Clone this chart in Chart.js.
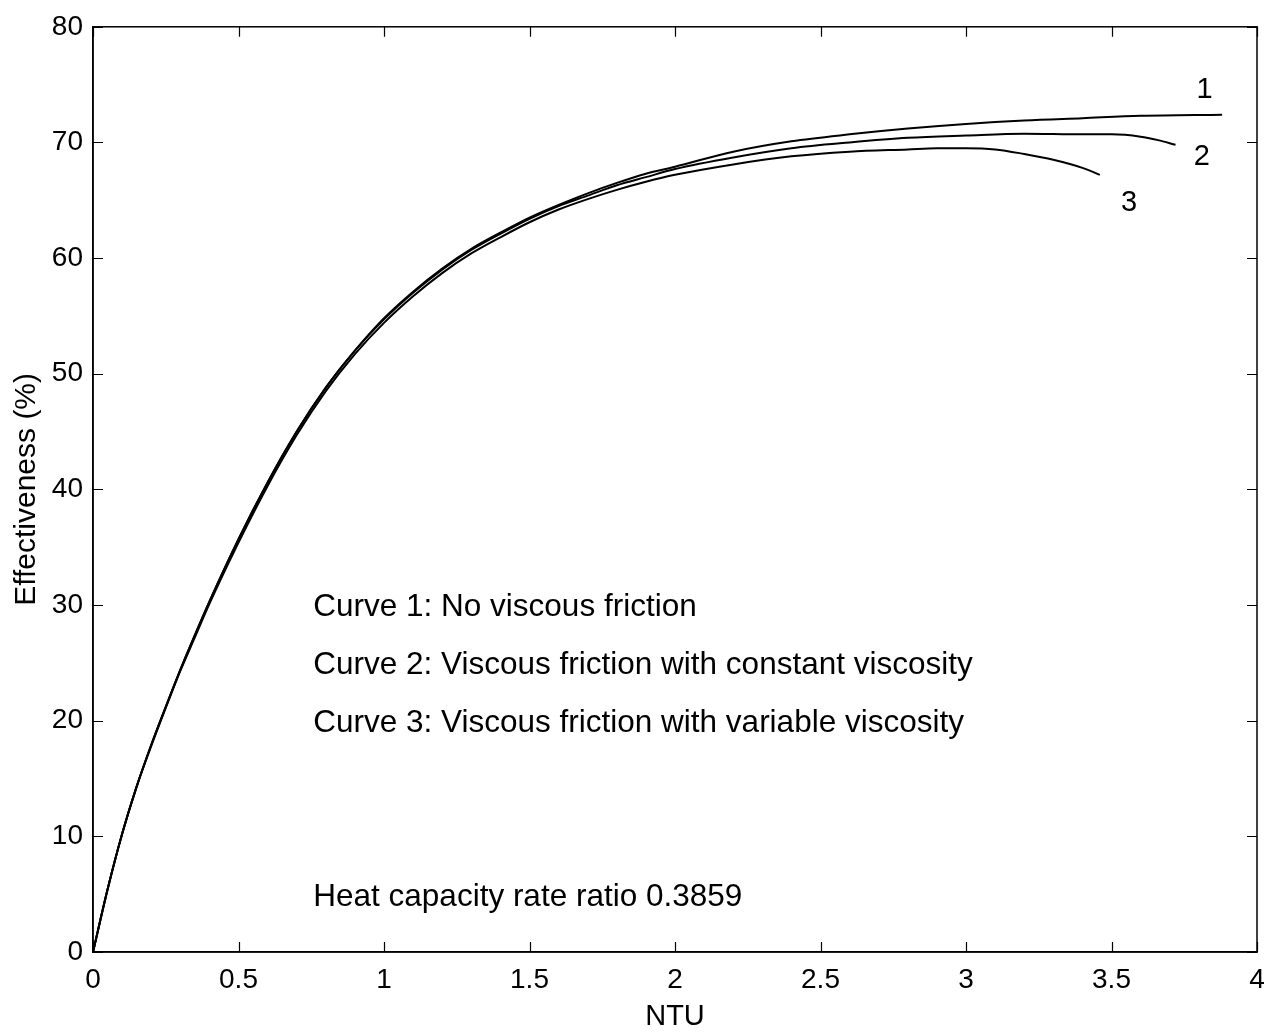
<!DOCTYPE html>
<html>
<head>
<meta charset="utf-8">
<script src="https://cdn.jsdelivr.net/npm/chart.js@4"></script>
<style>
html,body{margin:0;padding:0;background:#fff;}
#wrap{width:1286px;height:1034px;}
</style>
</head>
<body>
<div id="wrap"><canvas id="c" width="1286" height="1034"></canvas></div>
<script>
// ---- data ----
const ntu1 = [0, 0.05, 0.1, 0.15, 0.2, 0.25, 0.3, 0.35, 0.4, 0.5, 0.6, 0.7, 0.8, 0.9, 1.0, 1.1, 1.2, 1.3, 1.4, 1.5, 1.6, 1.7, 1.8, 1.9, 2.0, 2.2, 2.4, 2.6, 2.8, 3.0, 3.2, 3.4, 3.6, 3.88];
const eff1 = [0, 5.4, 10.2, 14.3, 17.9, 21.2, 24.4, 27.4, 30.3, 35.7, 40.6, 45.0, 48.8, 52.0, 54.8, 57.1, 59.1, 60.8, 62.2, 63.5, 64.6, 65.6, 66.5, 67.3, 67.9, 69.2, 70.1, 70.7, 71.2, 71.6, 71.9, 72.1, 72.3, 72.4];

const ntu2 = [0, 0.05, 0.1, 0.15, 0.2, 0.25, 0.3, 0.35, 0.4, 0.5, 0.6, 0.7, 0.8, 0.9, 1.0, 1.1, 1.2, 1.3, 1.4, 1.5, 1.6, 1.7, 1.8, 1.9, 2.0, 2.2, 2.4, 2.6, 2.8, 3.0, 3.2, 3.4, 3.5, 3.6, 3.66, 3.72];
const eff2 = [0, 5.4, 10.2, 14.3, 17.9, 21.2, 24.4, 27.4, 30.3, 35.7, 40.6, 45.0, 48.8, 52.0, 54.7, 57.0, 59.0, 60.7, 62.1, 63.4, 64.5, 65.4, 66.3, 67.0, 67.7, 68.7, 69.5, 70.0, 70.4, 70.6, 70.75, 70.7, 70.7, 70.5, 70.2, 69.8];

const ntu3 = [0, 0.05, 0.1, 0.15, 0.2, 0.25, 0.3, 0.35, 0.4, 0.5, 0.6, 0.7, 0.8, 0.9, 1.0, 1.1, 1.2, 1.3, 1.4, 1.5, 1.6, 1.7, 1.8, 1.9, 2.0, 2.2, 2.4, 2.6, 2.8, 2.9, 3.0, 3.1, 3.2, 3.3, 3.4, 3.46];
const eff3 = [0, 5.4, 10.2, 14.3, 17.8, 21.1, 24.3, 27.2, 30.1, 35.4, 40.3, 44.7, 48.5, 51.7, 54.4, 56.7, 58.7, 60.4, 61.8, 63.1, 64.2, 65.1, 65.9, 66.6, 67.2, 68.1, 68.8, 69.2, 69.4, 69.5, 69.5, 69.4, 69.0, 68.5, 67.8, 67.2];

const xTicks = [0, 0.5, 1, 1.5, 2, 2.5, 3, 3.5, 4];
const yTicks = [0, 10, 20, 30, 40, 50, 60, 70, 80];

const curveLabels = ['1', '2', '3'];
const curveLabelPos = [[3.82, 74.5], [3.81, 68.7], [3.56, 64.8]];
const notes = [
  'Curve 1: No viscous friction',
  'Curve 2: Viscous friction with constant viscosity',
  'Curve 3: Viscous friction with variable viscosity',
  'Heat capacity rate ratio 0.3859'
];
const notePos = [[0.757, 29.8], [0.757, 24.8], [0.757, 19.8], [0.757, 4.7]];

const FONT = '"Liberation Sans", Arial, Helvetica, sans-serif';

function pts(xs, ys){ return xs.map((x,i)=>({x:x, y:ys[i]})); }
function ds(xs, ys){
  return {data: pts(xs, ys), showLine: true, pointRadius: 0, borderColor: '#000',
          borderWidth: 2, cubicInterpolationMode: 'monotone', fill: false};
}

const frame = {
  id: 'frame',
  afterDraw(chart){
    const ctx = chart.ctx, a = chart.chartArea;
    const xs = chart.scales.x, ys = chart.scales.y;
    ctx.save();
    ctx.strokeStyle = '#000';
    ctx.lineWidth = 1.5;
    ctx.strokeRect(a.left, a.top, a.right - a.left, a.bottom - a.top);
    ctx.lineWidth = 1.2;
    const L = 10;
    xTicks.forEach(v => {
      const p = Math.round(xs.getPixelForValue(v)) + 0.5;
      ctx.beginPath();
      ctx.moveTo(p, a.bottom); ctx.lineTo(p, a.bottom - L);
      ctx.moveTo(p, a.top); ctx.lineTo(p, a.top + L);
      ctx.stroke();
    });
    yTicks.forEach(v => {
      const p = Math.round(ys.getPixelForValue(v)) + 0.5;
      ctx.beginPath();
      ctx.moveTo(a.left, p); ctx.lineTo(a.left + L, p);
      ctx.moveTo(a.right, p); ctx.lineTo(a.right - L, p);
      ctx.stroke();
    });
    ctx.fillStyle = '#000';
    ctx.textBaseline = 'middle';
    ctx.font = '29px ' + FONT;
    ctx.textAlign = 'center';
    curveLabels.forEach((t,i) => {
      ctx.fillText(t, xs.getPixelForValue(curveLabelPos[i][0]), ys.getPixelForValue(curveLabelPos[i][1]));
    });
    ctx.font = '31.5px ' + FONT;
    ctx.textAlign = 'left';
    notes.forEach((t,i) => {
      ctx.fillText(t, xs.getPixelForValue(notePos[i][0]), ys.getPixelForValue(notePos[i][1]));
    });
    ctx.restore();
  }
};

new Chart(document.getElementById('c'), {
  type: 'scatter',
  data: { datasets: [ds(ntu1, eff1), ds(ntu2, eff2), ds(ntu3, eff3)] },
  options: {
    responsive: false,
    animation: false,
    layout: { padding: { top: 20, right: 29, left: 0, bottom: 0 } },
    plugins: { legend: { display: false }, tooltip: { enabled: false } },
    scales: {
      x: {
        type: 'linear', min: 0, max: 4,
        afterBuildTicks: s => { s.ticks = xTicks.map(v => ({value: v})); },
        afterFit: s => { s.height = 82; },
        ticks: { color: '#000', font: { size: 28, family: FONT }, padding: 11, maxRotation: 0,
                 callback: v => String(v) },
        grid: { drawOnChartArea: false, drawTicks: false },
        border: { display: true, color: '#000', width: 1.5 },
        title: { display: true, text: 'NTU', color: '#000', font: { size: 29, family: FONT },
                 padding: { top: 0, bottom: 0 } }
      },
      y: {
        type: 'linear', min: 0, max: 80,
        afterBuildTicks: s => { s.ticks = yTicks.map(v => ({value: v})); },
        afterFit: s => { s.width = 93; },
        ticks: { color: '#000', font: { size: 28, family: FONT }, padding: 10,
                 callback: v => String(v) },
        grid: { drawOnChartArea: false, drawTicks: false },
        border: { display: true, color: '#000', width: 1.5 },
        title: { display: true, text: 'Effectiveness (%)', color: '#000', font: { size: 30, family: FONT },
                 padding: { top: 9, bottom: 0 } }
      }
    }
  },
  plugins: [frame]
});
</script>
</body>
</html>
